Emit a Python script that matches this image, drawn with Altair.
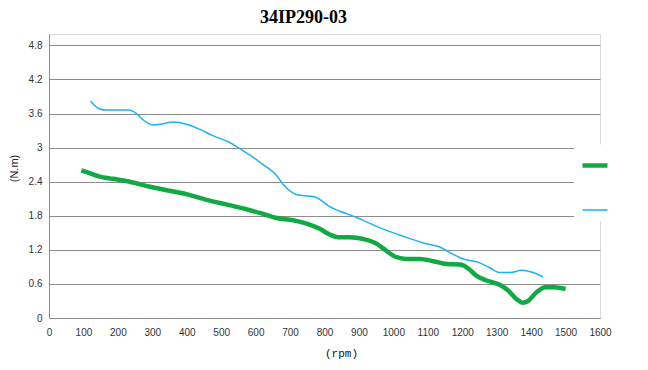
import altair as alt
import pandas as pd

# ---- data ----
series_names = ["Torque 1", "Torque 2"]

rpm_green = [94, 118, 147, 186, 234, 293, 341, 399, 457, 515, 564, 612, 661, 709,
             748, 786, 815, 840, 873, 913, 951, 980, 1009, 1038, 1077, 1116, 1155,
             1193, 1216, 1242, 1271, 1310, 1334, 1358, 1375, 1391, 1415, 1442, 1468, 1500]
torque_green = [2.60, 2.55, 2.49, 2.45, 2.40, 2.31, 2.25, 2.18, 2.08, 2.00, 1.93, 1.85,
                1.76, 1.72, 1.66, 1.57, 1.47, 1.42, 1.42, 1.39, 1.31, 1.18, 1.07, 1.04,
                1.04, 1.00, 0.95, 0.94, 0.88, 0.74, 0.66, 0.58, 0.48, 0.33, 0.27, 0.30,
                0.45, 0.54, 0.54, 0.51]

rpm_blue = [120, 147, 167, 230, 254, 273, 302, 322, 360, 399, 438, 476, 525, 554, 583,
            622, 661, 680, 709, 728, 767, 786, 815, 845, 893, 941, 990, 1038, 1087,
            1135, 1164, 1203, 1251, 1281, 1310, 1339, 1372, 1401, 1435]
torque_blue = [3.82, 3.68, 3.66, 3.66, 3.60, 3.49, 3.40, 3.41, 3.45, 3.41, 3.32, 3.21,
               3.09, 2.98, 2.87, 2.70, 2.51, 2.35, 2.20, 2.16, 2.14, 2.09, 1.96, 1.88,
               1.77, 1.64, 1.52, 1.42, 1.32, 1.25, 1.15, 1.04, 0.97, 0.88, 0.80, 0.80,
               0.84, 0.81, 0.72]

x_ticks = list(range(0, 1700, 100))
y_ticks = [0, 0.6, 1.2, 1.8, 2.4, 3, 3.6, 4.2, 4.8]

df = pd.concat([
    pd.DataFrame({"rpm": rpm_green, "torque": torque_green, "series": series_names[0]}),
    pd.DataFrame({"rpm": rpm_blue, "torque": torque_blue, "series": series_names[1]}),
], ignore_index=True)

legend_cfg = dict(
    orient="none", legendX=525, legendY=110.5, title=None,
    symbolType="stroke", symbolSize=625, rowPadding=22, padding=6,
    fillColor="white", labelExpr="''", labelOffset=0,
)

chart = alt.Chart(df).mark_line(interpolate="monotone").encode(
    x=alt.X("rpm:Q",
            scale=alt.Scale(domain=[0, 1600], nice=False, zero=False),
            axis=alt.Axis(values=x_ticks, format="d", grid=False, ticks=False, labelPadding=9,
                          labelFontSize=10, labelColor="#333333", labelFont="Liberation Sans",
                          domainColor="#8c8c8c", title="(rpm)", titleFont="Liberation Mono",
                          titleFontSize=11, titleFontWeight="normal", titleColor="#111111",
                          titleX=292, titleY=38, titleBaseline="alphabetic",
                          titleAlign="center", labelFlush=False)),
    y=alt.Y("torque:Q",
            scale=alt.Scale(domain=[0, 5], nice=False),
            axis=alt.Axis(values=y_ticks, format="~g", grid=True, gridColor="#8c8c8c",
                          gridWidth=1, ticks=False, labelPadding=7, labelFontSize=10,
                          labelColor="#333333", labelFont="Liberation Sans",
                          domainColor="#8c8c8c", title="(N.m)", titleFont="Liberation Sans",
                          titleFontSize=11, titleFontWeight="normal", titleColor="#222222",
                          titleAngle=270, titleX=-35, titleY=134, titleAlign="center",
                          titleBaseline="middle")),
    color=alt.Color("series:N",
                    scale=alt.Scale(domain=series_names, range=["#10aa45", "#1ab2f0"]),
                    legend=alt.Legend(**legend_cfg)),
    strokeWidth=alt.StrokeWidth("series:N",
                                scale=alt.Scale(domain=series_names, range=[4.5, 1.5]),
                                legend=alt.Legend(**legend_cfg)),
).properties(
    width=551, height=284,
    title=alt.TitleParams("34IP290-03", font="Liberation Serif", fontSize=18,
                          fontWeight="bold", color="#000000", anchor="middle", dx=-21,
                          dy=22, baseline="alphabetic", offset=15),
    autosize=alt.AutoSizeParams(type="none"),
    padding={"left": 41, "top": 26, "right": 40, "bottom": 44},
).configure_view(stroke=None).configure(background="white")

chart.save("out.html", embed_options={"renderer": "svg", "actions": False})
